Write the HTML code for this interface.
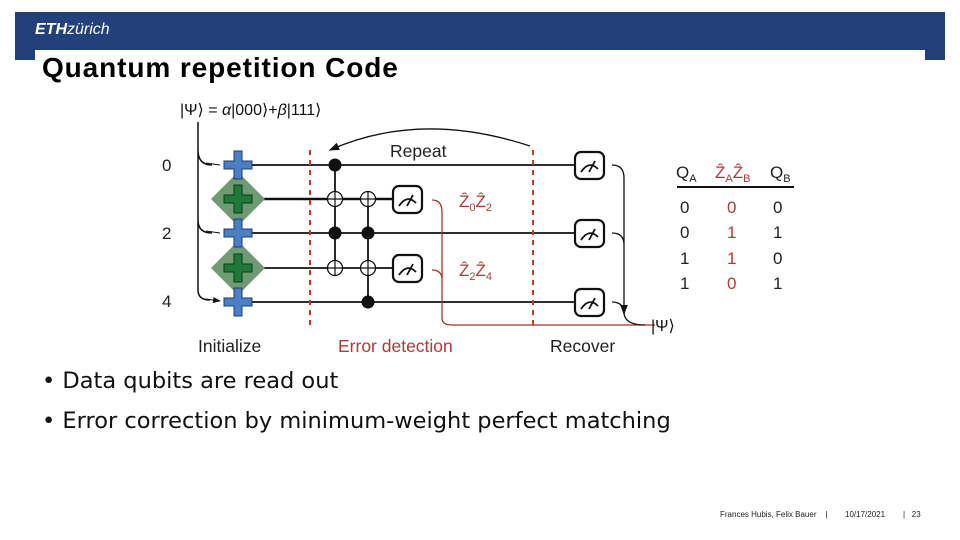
<!DOCTYPE html>
<html><head><meta charset="utf-8"><style>
body{margin:0;width:960px;height:540px;background:#fff;position:relative;overflow:hidden;font-family:"Liberation Sans",sans-serif}
.band{position:absolute;left:15px;top:12px;width:930px;height:48px;background:#22407a}
.inner{position:absolute;left:35px;top:50px;width:890px;height:20px;background:#fff}
.logo{position:absolute;left:35px;top:21px;color:#fff;font-size:16px}
h1{position:absolute;left:42px;top:52px;margin:0;font-size:28px;font-weight:bold;color:#000;letter-spacing:0.9px}
.bul{position:absolute;left:42px;color:#111;font-family:"DejaVu Sans",sans-serif;font-size:22.5px}
.foot{position:absolute;top:510px;font-size:8px;color:#222}
</style></head><body>
<div class="band"></div><div class="inner"></div>
<div class="logo"><b><i>ETH</i></b><i style="font-weight:normal">zürich</i></div>
<h1>Quantum repetition Code</h1>
<svg width="960" height="540" style="position:absolute;left:0;top:0" font-family="Liberation Sans,sans-serif">
<defs><marker id="a" markerWidth="8" markerHeight="8" refX="7" refY="4" orient="auto"><path d="M0,1 L8,4 L0,7z" fill="#111"/></marker></defs>
<text x="180" y="115" font-size="16" fill="#111">|Ψ⟩ = <tspan font-style="italic">α</tspan>|000⟩+<tspan font-style="italic">β</tspan>|111⟩</text>
<g fill="#222" font-size="17"><text x="162" y="171">0</text><text x="162" y="239">2</text><text x="162" y="307">4</text></g>
<path d="M198,122 V290 Q198,300 210,300 M198,150 Q198,165 212,165 M198,220 Q198,233 212,233" stroke="#111" stroke-width="1.5" fill="none"/>
<path d="M206,163 L220,165 M206,231 L220,233 M206,299 L220,301" stroke="#111" marker-end="url(#a)"/>
<g stroke="#111" stroke-width="1.8">
<line x1="240" y1="165" x2="576" y2="165"/><line x1="240" y1="199" x2="394" y2="199" stroke-width="2.4"/>
<line x1="240" y1="233" x2="576" y2="233"/><line x1="240" y1="268" x2="394" y2="268"/>
<line x1="240" y1="302" x2="576" y2="302"/>
<line x1="335" y1="165" x2="335" y2="276"/><line x1="368" y1="191" x2="368" y2="302"/>
</g>
<g fill="#6f9a72"><path d="M238,172 L265,199 L238,226 L211,199z"/><path d="M238,241 L265,268 L238,295 L211,268z"/></g>
<g stroke="#1d3b7a" stroke-width="1" fill="#4a7fc4">
<path d="M234,151h8v10h10v8h-10v10h-8v-10h-10v-8h10z"/><path d="M234,219h8v10h10v8h-10v10h-8v-10h-10v-8h10z"/><path d="M234,288h8v10h10v8h-10v10h-8v-10h-10v-8h10z"/></g>
<g stroke="#0b3a1a" stroke-width="1" fill="#1f7a3a">
<path d="M234,185h8v10h10v8h-10v10h-8v-10h-10v-8h10z"/><path d="M234,254h8v10h10v8h-10v10h-8v-10h-10v-8h10z"/></g>
<g fill="#111"><circle cx="335" cy="165" r="6.5"/><circle cx="335" cy="233" r="6.5"/><circle cx="368" cy="233" r="6.5"/><circle cx="368" cy="302" r="6.5"/></g>
<g fill="#fff" stroke="#111" stroke-width="1.3">
<circle cx="335" cy="199" r="7.5"/><circle cx="368" cy="199" r="7.5"/><circle cx="335" cy="268" r="7.5"/><circle cx="368" cy="268" r="7.5"/></g>
<path d="M327,199h16M335,191v16M360,199h16M368,191v16M327,268h16M335,260v16M360,268h16M368,260v16" stroke="#111" stroke-width="1.2"/>
<g stroke="#c0392b" stroke-width="2" stroke-dasharray="5,5"><line x1="310" y1="150" x2="310" y2="325"/><line x1="533" y1="150" x2="533" y2="325"/></g>
<path d="M530,146 Q420,110 330,150" stroke="#111" stroke-width="1.3" fill="none" marker-end="url(#a)"/>
<text x="390" y="157" font-size="17.5" fill="#222">Repeat</text>
<g fill="#fff" stroke="#111" stroke-width="2.2">
<rect x="393" y="186" width="29" height="27" rx="6"/><rect x="393" y="255" width="29" height="27" rx="6"/>
<rect x="575" y="152" width="29" height="27" rx="6"/><rect x="575" y="220" width="29" height="27" rx="6"/><rect x="575" y="289" width="29" height="27" rx="6"/></g>
<g stroke="#111" stroke-width="1.8" fill="none">
<path d="M399,206 Q407,194 416,203 M407,206 L413,195"/><path d="M399,275 Q407,263 416,272 M407,275 L413,264"/>
<path d="M581,172 Q589,160 598,169 M589,172 L595,161"/><path d="M581,240 Q589,228 598,237 M589,240 L595,229"/><path d="M581,309 Q589,297 598,306 M589,309 L595,298"/>
</g>
<path d="M432,200 Q442,200 442,212 V318 Q442,325 452,325 H655 M432,270 Q442,270 442,280" stroke="#a83232" stroke-width="1.3" fill="none"/>
<path d="M612,165 Q624,165 624,178 V312 Q624,325 645,325 M612,233 Q624,233 624,245 M612,302 Q624,302 624,314" stroke="#111" stroke-width="1.3" fill="none" marker-end="url(#a)"/>
<text x="651" y="331" font-size="16" fill="#111">|Ψ⟩</text>
<g fill="#b03a3a" font-size="17"><text x="459" y="207">Ẑ<tspan font-size="11" dy="4">0</tspan><tspan dy="-4">Ẑ</tspan><tspan font-size="11" dy="4">2</tspan></text>
<text x="459" y="276">Ẑ<tspan font-size="11" dy="4">2</tspan><tspan dy="-4">Ẑ</tspan><tspan font-size="11" dy="4">4</tspan></text></g>
<text x="198" y="352" font-size="17.5" fill="#222">Initialize</text>
<text x="338" y="352" font-size="17.5" fill="#b03a3a">Error detection</text>
<text x="550" y="352" font-size="17.5" fill="#222">Recover</text>
<g font-size="17" fill="#222"><text x="676" y="178">Q<tspan font-size="11" dy="4">A</tspan></text><text x="770" y="178">Q<tspan font-size="11" dy="4">B</tspan></text></g>
<text x="715" y="178" font-size="17" fill="#b03a3a">Ẑ<tspan font-size="11" dy="4">A</tspan><tspan dy="-4">Ẑ</tspan><tspan font-size="11" dy="4">B</tspan></text>
<line x1="677" y1="187" x2="794" y2="187" stroke="#111" stroke-width="2"/>
<g font-size="17" fill="#222"><text x="680" y="213">0</text><text x="680" y="238">0</text><text x="680" y="264">1</text><text x="680" y="289">1</text>
<text x="773" y="213">0</text><text x="773" y="238">1</text><text x="773" y="264">0</text><text x="773" y="289">1</text></g>
<g font-size="17" fill="#b03a3a"><text x="727" y="213">0</text><text x="727" y="238">1</text><text x="727" y="264">1</text><text x="727" y="289">0</text></g>
</svg>
<div class="bul" style="top:368px">• Data qubits are read out</div>
<div class="bul" style="top:408px">• Error correction by minimum-weight perfect matching</div>
<div class="foot" style="left:720px">Frances Hubis, Felix Bauer &nbsp;&nbsp;&nbsp;|</div>
<div class="foot" style="left:845px">10/17/2021</div>
<div class="foot" style="left:903px">| &nbsp;&nbsp;23</div>
</body></html>
